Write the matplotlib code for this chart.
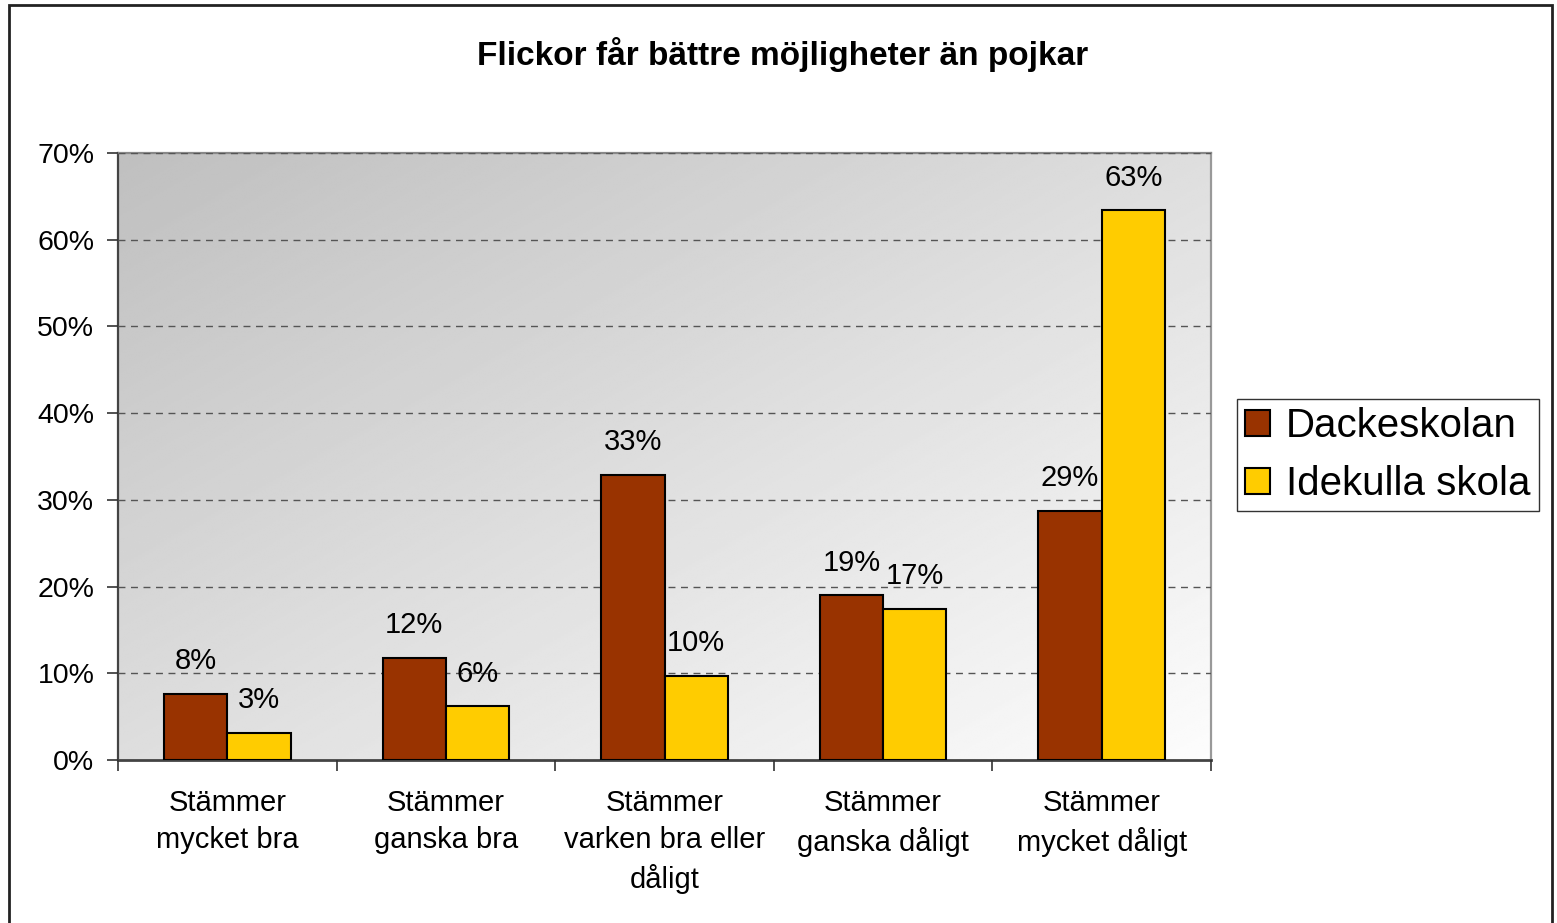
import numpy as np
import matplotlib
matplotlib.use("Agg")
import matplotlib.pyplot as plt
from matplotlib.patches import Rectangle

plt.rcParams['font.family'] = ['Liberation Sans', 'DejaVu Sans']

# data
categories = ['Stämmer\nmycket bra', 'Stämmer\nganska bra', 'Stämmer\nvarken bra eller\ndåligt',
              'Stämmer\nganska dåligt', 'Stämmer\nmycket dåligt']
dackeskolan = [7.6, 11.8, 32.9, 19.0, 28.7]
idekulla = [3.1, 6.2, 9.7, 17.4, 63.4]
series_names = ['Dackeskolan', 'Idekulla skola']
colors = ['#993300', '#FFCC00']
yticks = [0, 10, 20, 30, 40, 50, 60, 70]

fig = plt.figure(figsize=(15.57, 9.23), dpi=100)
ax = fig.add_axes([118/1557, 1-760/923, (1211-118)/1557, (760-153)/923])

# gradient background, grey top-left to white bottom-right
gx, gy = np.meshgrid(np.linspace(0, 1, 300), np.linspace(0, 1, 300))
t = (gx + gy) / 2
shade = 0.75 + 0.24 * t
ax.imshow(shade, cmap='gray', vmin=0, vmax=1, extent=[0, 1, 0, 1], transform=ax.transAxes,
          aspect='auto', zorder=0, interpolation='bilinear')

x = np.arange(len(categories))
w = 0.29
b1 = ax.bar(x - w/2, dackeskolan, w, color=colors[0], edgecolor='black', linewidth=1.5,
            label=series_names[0], zorder=3)
b2 = ax.bar(x + w/2, idekulla, w, color=colors[1], edgecolor='black', linewidth=1.5,
            label=series_names[1], zorder=3)

for bars, vals in ((b1, dackeskolan), (b2, idekulla)):
    for r, v in zip(bars, vals):
        ax.annotate(f'{round(v):d}%', (r.get_x() + r.get_width()/2, r.get_height()),
                    xytext=(0, 23.5), textcoords='offset points', ha='center', va='center',
                    fontsize=21, zorder=4)

ax.set_xlim(-0.5, len(categories) - 0.5)
ax.set_ylim(0, 70)
ax.set_yticks(yticks)
ax.set_yticklabels([f'{v}%' for v in yticks], fontsize=20.5)
ax.yaxis.grid(True, linestyle=(0, (5, 4)), color='#555555', linewidth=1)
ax.set_axisbelow(False)
for gl in ax.get_ygridlines():
    gl.set_zorder(1)

ax.set_xticks(np.arange(len(categories) + 1) - 0.5, minor=False)
ax.set_xticklabels([])
ax.set_xticks(x, minor=True)
ax.set_xticklabels(categories, minor=True, fontsize=21, linespacing=1.4, va='top')
ax.tick_params(axis='x', which='minor', length=0, pad=21)
ax.tick_params(axis='x', which='major', length=8, width=1.2, color='#333333', direction='out')
ax.tick_params(axis='y', length=8, width=1.2, color='#333333', direction='out', pad=9)

ax.spines['left'].set_color('#444444')
ax.spines['left'].set_linewidth(1.6)
ax.spines['bottom'].set_color('#444444')
ax.spines['bottom'].set_linewidth(2)
ax.spines['top'].set_color('#888888')
ax.spines['top'].set_linewidth(1.6)
ax.spines['right'].set_color('#999999')
ax.spines['right'].set_linewidth(1.6)

fig.text(0.5025, 1-55/923, 'Flickor får bättre möjligheter än pojkar', ha='center', va='center',
         fontsize=24, fontweight='bold')

leg = fig.legend(handles=[b1, b2], loc='center left', bbox_to_anchor=(1237/1557, 1-455/923),
                 fontsize=29, frameon=True, fancybox=False, edgecolor='black',
                 handlelength=0.62, handleheight=0.62, handletextpad=0.4,
                 borderpad=0.2, borderaxespad=0, labelspacing=0.5)
leg.get_frame().set_linewidth(1)

# outer border of the chart
fig.add_artist(Rectangle((9/1557, -0.01), (1552-9)/1557, 1.01 - 5/923, transform=fig.transFigure,
                         fill=False, edgecolor='#222222', linewidth=2))

fig.savefig('out.png', dpi=100)
